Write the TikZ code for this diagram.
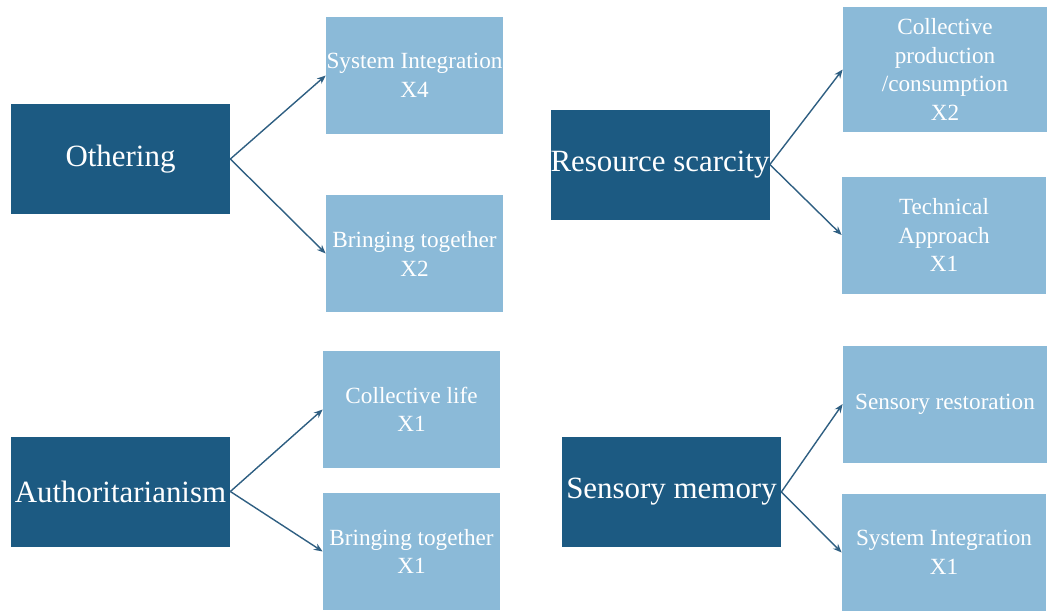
\documentclass[tikz,border=0pt]{standalone}
\usepackage{fontspec}
\setmainfont{Liberation Serif}
\usetikzlibrary{positioning, arrows.meta}
\definecolor{themeblue}{HTML}{1C5A82}
\definecolor{codeblue}{HTML}{8BBAD8}
\definecolor{linkblue}{HTML}{2F5F82}
\tikzset{
    theme/.style={
        fill=themeblue,
        text=white,
        minimum width=4.38cm,
        minimum height=2.2cm,
        inner sep=0pt,
        font=\fontsize{17.6}{21}\selectfont
    },
    code/.style={
        fill=codeblue,
        text=white,
        minimum width=3.54cm,
        minimum height=2.34cm,
        inner sep=0pt,
        align=center,
        font=\fontsize{13.2}{16.2}\selectfont
    },
    wide code/.style={
        code,
        minimum width=4.08cm
    }
}

\begin{document}
\begin{tikzpicture}[on grid]
            \useasboundingbox (0,0) rectangle (21,-12.2);

            % Themes
            \node (othering) [theme] at (2.41,-3.18) {Othering};
            \node (scarcity) [theme] at (13.2,-3.29) {Resource scarcity};
            \node (authority) [theme] at (2.41,-9.83) {Authoritarianism};
            \node (memory) [theme] at (13.43,-9.84) {Sensory memory};

            % Codes
            \node (integrationA) [
                code,
                above right = 1.67cm and 5.88cm of othering
            ] {System Integration\\X4};
            \node (togetherA) [
                code,
                text height=26pt,
                below right = 1.89cm and 5.88cm of othering
            ] {Bringing together\\X2};
            \node (production) [
                wide code,
                minimum height=2.5cm,
                above right = 1.9cm and 5.7cm of scarcity
            ] {Collective\\production\\/consumption\\X2};
            \node (technical) [
                wide code,
                below right = 1.41cm and 5.68cm of scarcity
            ] {Technical\\Approach\\X1};
            \node (life) [
                code,
                above right = 1.64cm and 5.82cm of authority
            ] {Collective life\\X1};
            \node (togetherB) [
                code,
                below right = 1.2cm and 5.82cm of authority
            ] {Bringing together\\X1};
            \node (restoration) [
                wide code,
                above right = 1.76cm and 5.47cm of memory
            ] {Sensory restoration};
            \node (integrationB) [
                wide code,
                below right = 1.21cm and 5.45cm of memory
            ] {System Integration\\X1};

            % Links
            \path [-{Stealth[length=5pt, width=4pt]}, line width=0.8pt, color=linkblue]
                (othering.east) edge (integrationA.west)
                (othering.east) edge (togetherA.west)
                (scarcity.east) edge (production.west)
                (scarcity.east) edge (technical.west)
                (authority.east) edge (life.west)
                (authority.east) edge (togetherB.west)
                (memory.east) edge (restoration.west)
                (memory.east) edge (integrationB.west)
            ;
\end{tikzpicture}
\end{document}
